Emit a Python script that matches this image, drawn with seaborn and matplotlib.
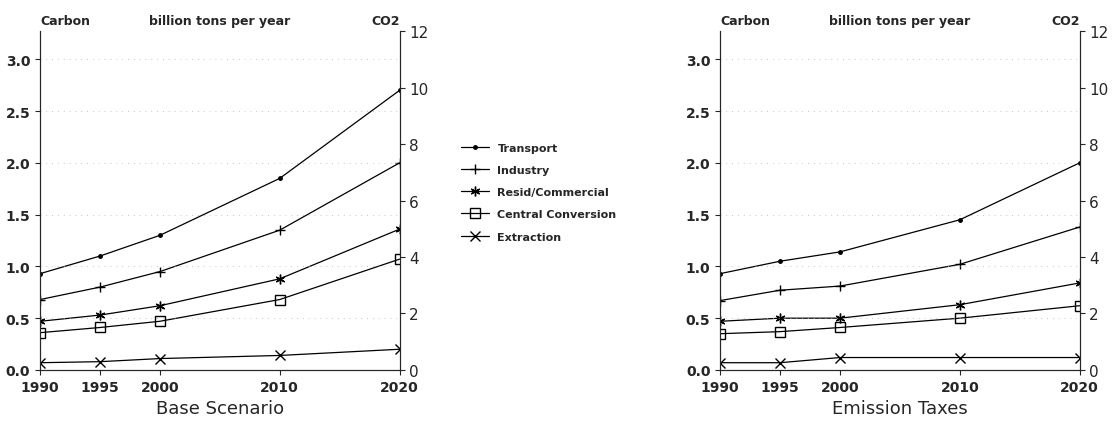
import numpy as np
import pandas as pd
import matplotlib
matplotlib.use("Agg")
import matplotlib.pyplot as plt
import seaborn as sns

years = [1990, 1995, 2000, 2010, 2020]
sectors = ["Transport", "Industry", "Resid/Commercial", "Central Conversion", "Extraction"]
markers = [".", "+", (6, 2, 0), "s", "x"]

base = {
    "Transport": [0.93, 1.10, 1.30, 1.85, 2.70],
    "Industry": [0.68, 0.80, 0.95, 1.35, 2.00],
    "Resid/Commercial": [0.47, 0.53, 0.62, 0.88, 1.36],
    "Central Conversion": [0.36, 0.41, 0.47, 0.68, 1.07],
    "Extraction": [0.07, 0.08, 0.11, 0.14, 0.20],
}
taxes = {
    "Transport": [0.93, 1.05, 1.14, 1.45, 2.00],
    "Industry": [0.67, 0.77, 0.81, 1.02, 1.38],
    "Resid/Commercial": [0.47, 0.50, 0.50, 0.63, 0.84],
    "Central Conversion": [0.35, 0.37, 0.41, 0.50, 0.62],
    "Extraction": [0.07, 0.07, 0.12, 0.12, 0.12],
}

sns.set_style("ticks")
plt.rcParams["font.family"] = ["DejaVu Sans"]

fig = plt.figure(figsize=(11.13, 4.39), dpi=100)
ax1 = fig.add_axes([0.036, 0.155, 0.323, 0.772])
ax2 = fig.add_axes([0.647, 0.155, 0.323, 0.772])

def panel(ax, data, title):
    for s, m in zip(sectors, markers):
        df = pd.DataFrame({"year": years, "carbon": data[s]})
        sns.lineplot(data=df, x="year", y="carbon", color="black", marker=m,
                     markersize=7 if m != "." else 5, markerfacecolor="none" if m == "s" else "black",
                     markeredgecolor="black", markeredgewidth=1, linewidth=0.9,
                     ax=ax, label=s)
    top = 12 * 12 / 44
    ax.set_ylim(0, top)
    ax.set_xlim(1990, 2020)
    ax.set_xticks(years)
    ax.set_yticks(np.arange(0, 3.01, 0.5))
    ax.yaxis.set_major_formatter(matplotlib.ticker.FormatStrFormatter("%.1f"))
    for yv in np.arange(0.5, 3.01, 0.5):
        ax.axhline(yv, color="0.7", lw=0.6, ls=(0, (1, 6)))
    ax.tick_params(labelsize=10, direction="out")
    for lab in ax.get_xticklabels() + ax.get_yticklabels():
        lab.set_fontweight("bold")
    ax.set_xlabel(title, fontsize=13)
    ax.set_ylabel("")
    axr = ax.twinx()
    axr.set_ylim(0, 12)
    axr.set_yticks(range(0, 13, 2))
    axr.tick_params(labelsize=11)
    ax.spines["top"].set_visible(False)
    axr.spines["top"].set_visible(False)
    ax.text(0.0, 1.02, "Carbon", transform=ax.transAxes, fontsize=9, fontweight="bold", ha="left")
    ax.text(0.5, 1.02, "billion tons per year", transform=ax.transAxes, fontsize=9, fontweight="bold", ha="center")
    ax.text(1.0, 1.02, "CO2", transform=ax.transAxes, fontsize=9, fontweight="bold", ha="right")

panel(ax1, base, "Base Scenario")
panel(ax2, taxes, "Emission Taxes")

h, l = ax1.get_legend_handles_labels()
ax1.get_legend().remove()
ax2.get_legend().remove()
fig.legend(h, l, loc="center left", bbox_to_anchor=(0.405, 0.56), frameon=False,
           prop={"size": 8, "weight": "bold"}, handlelength=2.5, labelspacing=1.1)

fig.savefig("out.png", dpi=100)
